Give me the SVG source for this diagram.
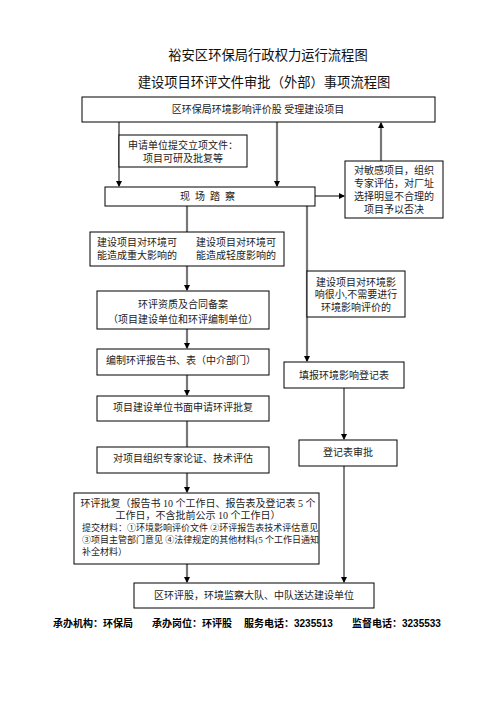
<svg xmlns="http://www.w3.org/2000/svg" width="496" height="702" viewBox="0 0 496 702">
<style>
.box{fill:#fff;stroke:#000;stroke-width:1}
.t{font-family:"Liberation Serif","Noto Sans CJK SC",serif;font-size:10px;fill:#222;text-anchor:middle}
.s{font-family:"Liberation Serif","Noto Sans CJK SC",serif;font-size:9px;fill:#222}
.title{font-family:"Noto Sans CJK SC",sans-serif;font-size:13.3px;fill:#111;text-anchor:middle}
.foot{font-family:"Liberation Sans","Noto Sans CJK SC",sans-serif;font-size:10px;font-weight:bold;fill:#000}
.g{stroke:#777;stroke-width:2.2;fill:none}
.k{stroke:#000;stroke-width:1;fill:none}
</style>
<defs>
<marker id="ah" markerWidth="6" markerHeight="6" refX="5" refY="3" orient="auto" markerUnits="userSpaceOnUse">
<path d="M0,0 L6,3 L0,6 Z" fill="#000"/>
</marker>
</defs>
<rect width="496" height="702" fill="#fff"/>
<text class="title" x="268" y="60">裕安区环保局行政权力运行流程图</text>
<text class="title" x="264" y="87">建设项目环评文件审批（外部）事项流程图</text>

<g id="connectors">
<path class="k" d="M119,122 V186" marker-end="url(#ah)"/>
<path class="g" d="M277,122 V186" marker-end="url(#ah)"/>
<path class="k" d="M315,196 H344" marker-end="url(#ah)"/>
<path class="g" d="M381,161 V123" marker-end="url(#ah)"/>
<path class="g" d="M187,206 V290" marker-end="url(#ah)"/>
<path class="g" d="M307,206 V361" marker-end="url(#ah)"/>
<path class="g" d="M187,329 V348" marker-end="url(#ah)"/>
<path class="g" d="M187,375 V395" marker-end="url(#ah)"/>
<path class="g" d="M187,421 V447"/>
<path class="g" d="M187,473 V492" marker-end="url(#ah)"/>
<path class="g" d="M187,564 V582" marker-end="url(#ah)"/>
<path class="k" d="M344,388 V439" marker-end="url(#ah)"/>
<path class="k" d="M344,466 V582" marker-end="url(#ah)"/>
</g>

<g id="n_accept">
<rect class="box" x="82" y="97" width="353" height="25"/>
<text class="t" x="258" y="113">区环保局环境影响评价股  受理建设项目</text>
</g>
<g id="n_submit">
<rect class="box" x="119" y="135" width="128" height="32"/>
<text class="t" x="183" y="149">申请单位提交立项文件：</text>
<text class="t" x="183" y="162">项目可研及批复等</text>
</g>
<g id="n_site">
<rect class="box" x="105" y="187" width="210" height="19"/>
<text class="t" x="210" y="200" letter-spacing="5">现场踏察</text>
</g>
<g id="n_sensitive">
<rect class="box" x="345" y="161" width="98" height="57"/>
<text class="t" x="394" y="174">对敏感项目，组织</text>
<text class="t" x="394" y="187">专家评估，对厂址</text>
<text class="t" x="394" y="200">选择明显不合理的</text>
<text class="t" x="394" y="213">项目予以否决</text>
</g>
<g id="n_impact">
<rect class="box" x="90" y="232" width="194" height="34"/>
<text class="t" x="137" y="246">建设项目对环境可</text>
<text class="t" x="137" y="259">能造成重大影响的</text>
<text class="t" x="236" y="246">建设项目对环境可</text>
<text class="t" x="236" y="259">能造成轻度影响的</text>
</g>
<g id="n_small">
<rect class="box" x="307" y="271" width="98" height="46"/>
<text class="t" x="356" y="286">建设项目对环境影</text>
<text class="t" x="356" y="298">响很小,不需要进行</text>
<text class="t" x="356" y="311">环境影响评价的</text>
</g>
<g id="n_qual">
<rect class="box" x="97" y="291" width="172" height="38"/>
<text class="t" x="183" y="308">环评资质及合同备案</text>
<text class="t" x="183" y="323">（项目建设单位和环评编制单位）</text>
</g>
<g id="n_report">
<rect class="box" x="97" y="349" width="172" height="26"/>
<text class="t" x="181" y="364">编制环评报告书、表（中介部门）</text>
</g>
<g id="n_apply">
<rect class="box" x="97" y="396" width="172" height="25"/>
<text class="t" x="183" y="411">项目建设单位书面申请环评批复</text>
</g>
<g id="n_expert">
<rect class="box" x="97" y="447" width="172" height="26"/>
<text class="t" x="183" y="462">对项目组织专家论证、技术评估</text>
</g>
<g id="n_register">
<rect class="box" x="284" y="362" width="120" height="26"/>
<text class="t" x="344" y="379">填报环境影响登记表</text>
</g>
<g id="n_regapprove">
<rect class="box" x="299" y="440" width="98" height="26"/>
<text class="t" x="348" y="456">登记表审批</text>
</g>
<g id="n_approve">
<rect class="box" x="74" y="493" width="245" height="71"/>
<text class="t" x="198" y="507">环评批复（报告书 10 个工作日、报告表及登记表 5 个</text>
<text class="t" x="198" y="519">工作日，不含批前公示 10 个工作日）</text>
<text class="s" x="82" y="531">提交材料：①环境影响评价文件 ②环评报告表技术评估意见</text>
<text class="s" x="82" y="543">③项目主管部门意见 ④法律规定的其他材料(5 个工作日通知</text>
<text class="s" x="82" y="555">补全材料）</text>
</g>
<g id="n_deliver">
<rect class="box" x="134" y="583" width="240" height="25"/>
<text class="t" x="254" y="599">区环评股，环境监察大队、中队送达建设单位</text>
</g>
<g id="footer">
<text class="foot" x="53" y="627">承办机构：环保局</text>
<text class="foot" x="152" y="627">承办岗位：环评股</text>
<text class="foot" x="244" y="627">服务电话：3235513</text>
<text class="foot" x="352" y="627">监督电话：3235533</text>
</g>
</svg>
